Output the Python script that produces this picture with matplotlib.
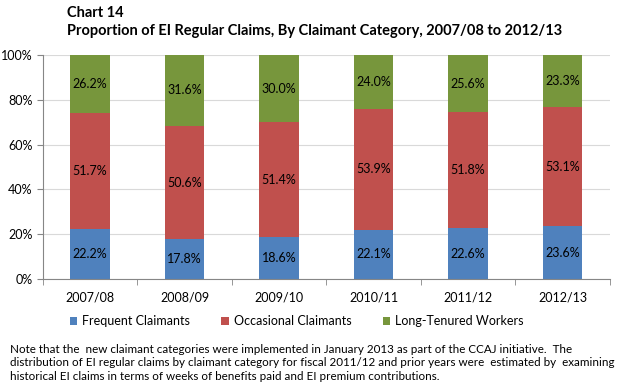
import numpy as np
import matplotlib.pyplot as plt
from matplotlib.ticker import PercentFormatter

plt.rcParams['font.family'] = ['Lato', 'DejaVu Sans']

years = ['2007/08', '2008/09', '2009/10', '2010/11', '2011/12', '2012/13']
frequent = [22.2, 17.8, 18.6, 22.1, 22.6, 23.6]
occasional = [51.7, 50.6, 51.4, 53.9, 51.8, 53.1]
long_tenured = [26.2, 31.6, 30.0, 24.0, 25.6, 23.3]

series = [
    ('Frequent Claimants', frequent, '#4F81BD'),
    ('Occasional Claimants', occasional, '#C0504D'),
    ('Long-Tenured Workers', long_tenured, '#77963C'),
]

fig = plt.figure(figsize=(6.21, 3.84), dpi=100)
ax = fig.add_axes([0.069, 0.273, 0.913, 0.584])

x = np.arange(len(years))
bottom = np.zeros(len(years))
for name, vals, col in series:
    vals = np.array(vals)
    ax.bar(x, vals, 0.42, bottom=bottom, color=col, label=name, zorder=2)
    for xi, b, v in zip(x, bottom, vals):
        top = min(b + v, 100)
        ax.text(xi, (b + top) / 2, f'{v:.1f}%', ha='center', va='center',
                fontsize=9, color='black', zorder=3)
    bottom += vals

ax.set_xlim(-0.5, len(years) - 0.5)
ax.set_ylim(0, 100)
ax.set_yticks(np.arange(0, 101, 20))
ax.yaxis.set_major_formatter(PercentFormatter(decimals=0))
ax.grid(axis='y', color='#D9D9D9', linewidth=0.8, zorder=0)
ax.set_xticks(x)
ax.set_xticklabels(years)
ax.set_xticks(np.arange(-0.5, len(years)), minor=True)
ax.tick_params(axis='x', which='major', length=0, pad=9, labelsize=9)
ax.tick_params(axis='x', which='minor', length=4, color='#868686')
ax.tick_params(axis='y', length=4, color='#868686', labelsize=9)
for s in ['top', 'right']:
    ax.spines[s].set_visible(False)
for s in ['left', 'bottom']:
    ax.spines[s].set_color('#868686')

fig.text(0.108, 0.965, 'Chart 14', fontsize=10.5, fontweight='bold', va='center')
fig.text(0.108, 0.918, 'Proportion of EI Regular Claims, By Claimant Category, 2007/08 to 2012/13',
         fontsize=10.5, fontweight='bold', va='center')

fig.legend(loc='center', bbox_to_anchor=(0.478, 0.164), ncol=3, frameon=False,
           fontsize=9, handlelength=0.6, handleheight=0.6, columnspacing=2.5, handletextpad=0.4)

note = ('Note that the  new claimant categories were implemented in January 2013 as part of the CCAJ initiative.  The\n'
        'distribution of EI regular claims by claimant category for fiscal 2011/12 and prior years were  estimated by  examining\n'
        'historical EI claims in terms of weeks of benefits paid and EI premium contributions.')
fig.text(0.016, 0.055, note, fontsize=8.4, va='center', linespacing=1.3)

fig.savefig('out.png', dpi=100)
